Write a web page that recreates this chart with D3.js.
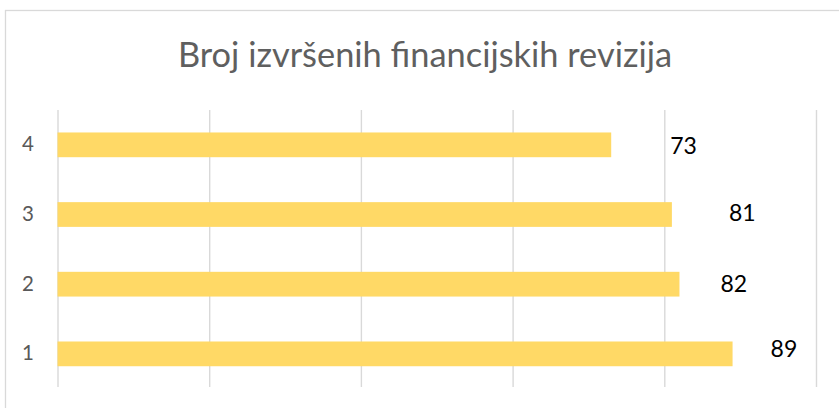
<!DOCTYPE html>
<html>
<head>
<meta charset="utf-8">
<script src="https://cdn.jsdelivr.net/npm/d3@7"></script>
<style>
  html, body { margin: 0; padding: 0; background: #ffffff; }
  svg { display: block; }
</style>
</head>
<body>
<svg id="chart" width="839" height="408"></svg>
<script>
// ---- data ----
const title = "Broj izvršenih financijskih revizija";
const categories = ["1", "2", "3", "4"];
const values = [89, 82, 81, 73];
const xTicks = [0, 20, 40, 60, 80, 100];

// ---- layout (label nudges in px, as placed in the original) ----
const labelNudge = [[38, -4.5], [41, 0], [57, -1.5], [59, 1.5]];

const svg = d3.select("#chart");

// outer chart border
svg.append("rect")
  .attr("x", 5.5).attr("y", 10.5)
  .attr("width", 850).attr("height", 420)
  .attr("fill", "#ffffff")
  .attr("stroke", "#d9d9d9").attr("stroke-width", 1.3);

const x = d3.scaleLinear().domain([0, 100]).range([57.5, 816]);
const y = d3.scaleBand()
  .domain(categories.slice().reverse())
  .range([110, 388.7])
  .paddingInner(0.645)
  .paddingOuter(0.3225);

// title
svg.append("text")
  .attr("x", 425).attr("y", 67)
  .attr("text-anchor", "middle")
  .attr("font-family", "Lato, 'Open Sans', sans-serif")
  .attr("font-weight", 400)
  .attr("font-size", 34.4)
  .attr("fill", "#5f5f5f")
  .text(title);

// gridlines
const gx = svg.append("g")
  .attr("transform", `translate(0,387)`)
  .call(d3.axisBottom(x).tickValues(xTicks).tickSize(-(387 - 110)).tickFormat(""));
gx.select(".domain").remove();
gx.selectAll(".tick line").attr("stroke", "#d9d9d9").attr("stroke-width", 1.4);

// y axis labels
const gy = svg.append("g")
  .attr("transform", `translate(57.5,0)`)
  .call(d3.axisLeft(y).tickSize(0).tickPadding(23.5));
gy.select(".domain").remove();
gy.selectAll("text")
  .attr("font-family", "Lato, 'Open Sans', sans-serif")
  .attr("font-size", 20.5)
  .attr("fill", "#595959");

// bars
svg.append("g").selectAll("rect")
  .data(categories)
  .join("rect")
  .attr("x", x(0))
  .attr("y", d => y(d))
  .attr("width", (d, i) => x(values[i]) - x(0))
  .attr("height", y.bandwidth())
  .attr("fill", "#FFD966");

// data labels
svg.append("g").selectAll("text")
  .data(categories)
  .join("text")
  .attr("x", (d, i) => x(values[i]) + labelNudge[i][0])
  .attr("y", (d, i) => y(d) + y.bandwidth() / 2 + labelNudge[i][1])
  .attr("dy", "0.35em")
  .attr("font-family", "Lato, 'Open Sans', sans-serif")
  .attr("font-size", 23)
  .attr("fill", "#000000")
  .text((d, i) => values[i]);
</script>
</body>
</html>
